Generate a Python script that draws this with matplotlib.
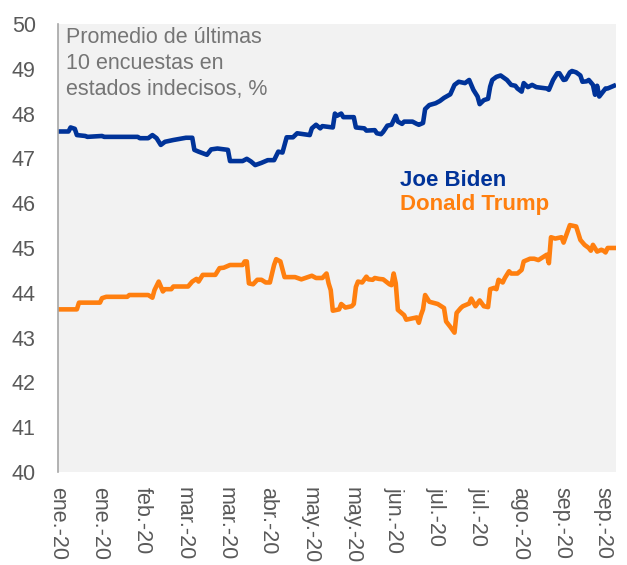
import matplotlib.pyplot as plt
import pandas as pd

plt.rcParams["font.family"] = ["Liberation Sans", "DejaVu Sans"]

# Biden: fechas y promedio (%)
biden_fechas = ["2020-01-08", "2020-01-13", "2020-01-14", "2020-01-16", "2020-01-17", "2020-01-21",
                "2020-01-22", "2020-01-29", "2020-01-30", "2020-02-15", "2020-02-16", "2020-02-20",
                "2020-02-22", "2020-02-24", "2020-02-26", "2020-02-28", "2020-03-03", "2020-03-09",
                "2020-03-12", "2020-03-13", "2020-03-15", "2020-03-19", "2020-03-21", "2020-03-24",
                "2020-03-29", "2020-03-30", "2020-04-05", "2020-04-07", "2020-04-09", "2020-04-11",
                "2020-04-14", "2020-04-17", "2020-04-20", "2020-04-22", "2020-04-24", "2020-04-26",
                "2020-04-29", "2020-05-01", "2020-05-07", "2020-05-08", "2020-05-10", "2020-05-12",
                "2020-05-13", "2020-05-18", "2020-05-19", "2020-05-20", "2020-05-22", "2020-05-23",
                "2020-05-28", "2020-05-29", "2020-06-02", "2020-06-03", "2020-06-07", "2020-06-08",
                "2020-06-10", "2020-06-11", "2020-06-13", "2020-06-15", "2020-06-17", "2020-06-18",
                "2020-06-20", "2020-06-21", "2020-06-25", "2020-06-27", "2020-06-28", "2020-06-30",
                "2020-07-01", "2020-07-03", "2020-07-06", "2020-07-08", "2020-07-10", "2020-07-13",
                "2020-07-15", "2020-07-17", "2020-07-20", "2020-07-22", "2020-07-24", "2020-07-26",
                "2020-07-27", "2020-07-29", "2020-07-31", "2020-08-01", "2020-08-02", "2020-08-04",
                "2020-08-06", "2020-08-09", "2020-08-11", "2020-08-13", "2020-08-14", "2020-08-16",
                "2020-08-17", "2020-08-19", "2020-08-21", "2020-08-23", "2020-08-28", "2020-08-29",
                "2020-08-31", "2020-09-02", "2020-09-03", "2020-09-05", "2020-09-06", "2020-09-08",
                "2020-09-09", "2020-09-11", "2020-09-13", "2020-09-14", "2020-09-16", "2020-09-17",
                "2020-09-19", "2020-09-20", "2020-09-21", "2020-09-22", "2020-09-25", "2020-09-26",
                "2020-09-28", "2020-09-29"]
biden = [47.60, 47.60, 47.69, 47.66, 47.52, 47.50,
         47.48, 47.50, 47.48, 47.48, 47.45, 47.45,
         47.52, 47.45, 47.30, 47.37, 47.41, 47.46,
         47.46, 47.19, 47.15, 47.08, 47.20, 47.22,
         47.19, 46.94, 46.94, 46.99, 46.93, 46.85,
         46.90, 46.96, 46.96, 47.15, 47.13, 47.47,
         47.47, 47.56, 47.52, 47.67, 47.75, 47.67,
         47.72, 47.69, 48.00, 47.95, 48.00, 47.92,
         47.92, 47.69, 47.67, 47.62, 47.63, 47.56,
         47.54, 47.59, 47.73, 47.75, 47.95, 47.82,
         47.77, 47.82, 47.82, 47.77, 47.75, 47.79,
         48.10, 48.19, 48.23, 48.28, 48.35, 48.43,
         48.64, 48.71, 48.68, 48.75, 48.53, 48.38,
         48.21, 48.30, 48.33, 48.60, 48.75, 48.82,
         48.85, 48.75, 48.64, 48.62, 48.56, 48.49,
         48.68, 48.59, 48.64, 48.59, 48.56, 48.53,
         48.75, 48.90, 48.90, 48.75, 48.76, 48.92,
         48.95, 48.92, 48.85, 48.71, 48.72, 48.75,
         48.64, 48.42, 48.62, 48.38, 48.56, 48.56,
         48.60, 48.62]

# Trump: fechas y promedio (%)
trump_fechas = ["2020-01-08", "2020-01-17", "2020-01-18", "2020-01-28", "2020-01-29", "2020-01-31",
                "2020-02-10", "2020-02-11", "2020-02-20", "2020-02-22", "2020-02-23", "2020-02-25",
                "2020-02-27", "2020-02-28", "2020-03-02", "2020-03-03", "2020-03-10", "2020-03-12",
                "2020-03-14", "2020-03-15", "2020-03-17", "2020-03-23", "2020-03-25", "2020-03-27",
                "2020-03-30", "2020-04-05", "2020-04-06", "2020-04-07", "2020-04-08", "2020-04-10",
                "2020-04-12", "2020-04-14", "2020-04-16", "2020-04-18", "2020-04-20", "2020-04-21",
                "2020-04-23", "2020-04-25", "2020-04-30", "2020-05-03", "2020-05-08", "2020-05-10",
                "2020-05-13", "2020-05-15", "2020-05-16", "2020-05-17", "2020-05-18", "2020-05-21",
                "2020-05-22", "2020-05-24", "2020-05-27", "2020-05-28", "2020-05-29", "2020-05-30",
                "2020-06-01", "2020-06-03", "2020-06-04", "2020-06-06", "2020-06-07", "2020-06-09",
                "2020-06-11", "2020-06-14", "2020-06-15", "2020-06-16", "2020-06-17", "2020-06-18",
                "2020-06-21", "2020-06-22", "2020-06-27", "2020-06-28", "2020-06-29", "2020-06-30",
                "2020-07-01", "2020-07-03", "2020-07-07", "2020-07-10", "2020-07-11", "2020-07-13",
                "2020-07-15", "2020-07-16", "2020-07-18", "2020-07-19", "2020-07-22", "2020-07-23",
                "2020-07-25", "2020-07-27", "2020-07-29", "2020-07-31", "2020-08-01", "2020-08-03",
                "2020-08-04", "2020-08-05", "2020-08-07", "2020-08-08", "2020-08-10", "2020-08-11",
                "2020-08-14", "2020-08-16", "2020-08-17", "2020-08-20", "2020-08-22", "2020-08-24",
                "2020-08-26", "2020-08-28", "2020-08-29", "2020-08-30", "2020-09-01", "2020-09-04",
                "2020-09-05", "2020-09-06", "2020-09-08", "2020-09-11", "2020-09-13", "2020-09-15",
                "2020-09-17", "2020-09-18", "2020-09-19", "2020-09-21", "2020-09-23", "2020-09-24",
                "2020-09-25", "2020-09-26", "2020-09-29"]
trump = [43.63, 43.63, 43.78, 43.78, 43.88, 43.91,
         43.91, 43.95, 43.95, 43.89, 44.06, 44.25,
         44.03, 44.08, 44.08, 44.14, 44.14, 44.25,
         44.31, 44.25, 44.40, 44.40, 44.55, 44.56,
         44.62, 44.62, 44.70, 44.70, 44.21, 44.19,
         44.29, 44.29, 44.23, 44.23, 44.62, 44.75,
         44.70, 44.35, 44.35, 44.30, 44.38, 44.33,
         44.33, 44.43, 44.21, 44.06, 43.60, 43.63,
         43.75, 43.67, 43.70, 43.75, 44.13, 44.25,
         44.23, 44.36, 44.30, 44.29, 44.33, 44.31,
         44.30, 44.19, 44.17, 44.43, 44.21, 43.62,
         43.50, 43.40, 43.45, 43.33, 43.50, 43.63,
         43.95, 43.80, 43.75, 43.66, 43.36, 43.24,
         43.11, 43.55, 43.66, 43.70, 43.76, 43.87,
         43.70, 43.83, 43.70, 43.68, 44.08, 44.11,
         44.08, 44.29, 44.23, 44.33, 44.48, 44.43,
         44.43, 44.51, 44.70, 44.76, 44.76, 44.73,
         44.79, 44.85, 44.66, 45.24, 45.21, 45.24,
         45.12, 45.25, 45.51, 45.48, 45.18, 45.07,
         45.00, 44.94, 45.07, 44.92, 44.96, 44.94,
         44.90, 45.00, 45.00]

meses = ["ene.", "feb.", "mar.", "abr.", "may.", "jun.", "jul.", "ago.", "sep.", "oct.", "nov.", "dic."]
ticks = pd.date_range("2020-01-08", periods=14, freq="20D")

azul = "#003399"
naranja = "#FF7F0F"
gris = "#595959"

fig = plt.figure(figsize=(6.27, 5.65), dpi=100)
ax = fig.add_axes([0.0925, 0.1646, 0.89, 0.793])
ax.set_facecolor("#F2F2F2")

ax.plot(pd.to_datetime(biden_fechas), biden, color=azul, linewidth=3.3, solid_joinstyle="round")
ax.plot(pd.to_datetime(trump_fechas), trump, color=naranja, linewidth=3.3, solid_joinstyle="round")

ax.set_ylim(40, 50)
ax.set_yticks(range(40, 51))
ax.set_xlim(pd.Timestamp("2020-01-08"), pd.Timestamp("2020-09-30"))
ax.set_xticks(ticks)
ax.set_xticklabels([meses[d.month - 1] + "-" + d.strftime("%y") for d in ticks],
                   rotation=-90, va="top", ha="center")

for s in ["top", "right", "bottom"]:
    ax.spines[s].set_visible(False)
ax.spines["left"].set_color("#A6A6A6")
ax.spines["left"].set_linewidth(1.2)
ax.tick_params(axis="both", length=0, labelsize=15.5, colors=gris)
ax.tick_params(axis="y", pad=16)
ax.tick_params(axis="x", pad=11)

ax.text(0.015, 0.993, "Promedio de últimas\n10 encuestas en\nestados indecisos, %",
        transform=ax.transAxes, va="top", ha="left", fontsize=15.5, color="#757575",
        linespacing=1.32)
ax.text(0.613, 0.638, "Joe Biden", transform=ax.transAxes, fontsize=16, fontweight="bold",
        color=azul, va="baseline")
ax.text(0.613, 0.585, "Donald Trump", transform=ax.transAxes, fontsize=16, fontweight="bold",
        color=naranja, va="baseline")

fig.savefig("out.png", dpi=100)
